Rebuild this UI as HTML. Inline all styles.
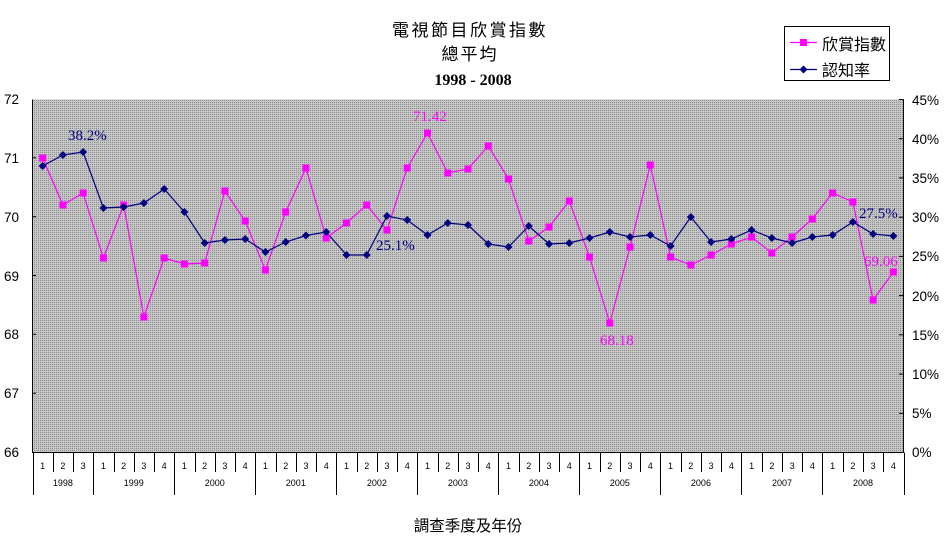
<!DOCTYPE html>
<html>
<head>
<meta charset="utf-8">
<style>
html,body{margin:0;padding:0;background:#fff;}
svg{display:block;}
.cjk{font-family:"Liberation Sans","Noto Sans CJK TC","WenQuanYi Zen Hei",sans-serif;}
.ax{font-family:"Liberation Sans",Arial,sans-serif;font-size:13.5px;fill:#000;}
.sm{font-family:"Liberation Sans",Arial,sans-serif;font-size:9px;fill:#000;}
.lbl{font-family:"Liberation Serif","Times New Roman",serif;font-size:15px;}
</style>
</head>
<body>
<svg width="948" height="559" viewBox="0 0 948 559" xmlns="http://www.w3.org/2000/svg">
<defs>
<pattern id="dots" width="2" height="2" patternUnits="userSpaceOnUse">
<rect width="2" height="2" fill="#c6c6c6"/>
<rect width="1" height="1" fill="#8c8c8c"/>
</pattern>
</defs>
<!-- titles -->
<text x="470" y="36" text-anchor="middle" class="cjk" font-size="17" letter-spacing="2.5">電視節目欣賞指數</text>
<text x="470" y="60" text-anchor="middle" class="cjk" font-size="17" letter-spacing="2">總平均</text>
<text x="473" y="85" text-anchor="middle" font-family="Liberation Serif, serif" font-weight="bold" font-size="16">1998 - 2008</text>

<!-- plot area -->
<rect x="32.5" y="99.5" width="871" height="352.5" fill="url(#dots)"/>
<path d="M32.5 99.5 V452.5 H903.5 V99.5" fill="none" stroke="#000" stroke-width="1"/>

<!-- left ticks -->
<g stroke="#000" stroke-width="1">
<line x1="32.5" y1="157.8" x2="36" y2="157.8"/>
<line x1="32.5" y1="216.7" x2="36" y2="216.7"/>
<line x1="32.5" y1="275.5" x2="36" y2="275.5"/>
<line x1="32.5" y1="334.3" x2="36" y2="334.3"/>
<line x1="32.5" y1="393.2" x2="36" y2="393.2"/>
<!-- right ticks -->
<line x1="899" y1="99.5" x2="903.5" y2="99.5"/>
<line x1="899" y1="138.7" x2="903.5" y2="138.7"/>
<line x1="899" y1="177.9" x2="903.5" y2="177.9"/>
<line x1="899" y1="217.2" x2="903.5" y2="217.2"/>
<line x1="899" y1="256.4" x2="903.5" y2="256.4"/>
<line x1="899" y1="295.6" x2="903.5" y2="295.6"/>
<line x1="899" y1="334.8" x2="903.5" y2="334.8"/>
<line x1="899" y1="374.1" x2="903.5" y2="374.1"/>
<line x1="899" y1="413.3" x2="903.5" y2="413.3"/>
</g>

<!-- left labels -->
<g class="ax">
<text x="4" y="104">72</text>
<text x="4" y="163">71</text>
<text x="4" y="222">70</text>
<text x="4" y="281">69</text>
<text x="4" y="339">68</text>
<text x="4" y="398">67</text>
<text x="4" y="457">66</text>
</g>
<!-- right labels -->
<g class="ax">
<text x="912" y="105">45%</text>
<text x="912" y="144">40%</text>
<text x="912" y="183">35%</text>
<text x="912" y="222">30%</text>
<text x="912" y="261">25%</text>
<text x="912" y="301">20%</text>
<text x="912" y="340">15%</text>
<text x="912" y="379">10%</text>
<text x="912" y="418">5%</text>
<text x="912" y="457">0%</text>
</g>

<!-- category axis ticks -->
<g stroke="#000" stroke-width="1" id="ticks"></g>
<g class="sm" id="qlabels"></g>

<!-- series -->
<g id="series"></g>

<!-- data labels -->
<text x="68" y="140" class="lbl" fill="#000080">38.2%</text>
<text x="413" y="121" class="lbl" fill="#ff00ff">71.42</text>
<text x="376" y="250" class="lbl" fill="#000080">25.1%</text>
<text x="600" y="345" class="lbl" fill="#ff00ff">68.18</text>
<text x="859" y="218" class="lbl" fill="#000080">27.5%</text>
<text x="864" y="266" class="lbl" fill="#ff00ff">69.06</text>

<!-- legend -->
<rect x="784.5" y="26.5" width="105" height="54" fill="#fff" stroke="#000" stroke-width="1"/>
<line x1="790" y1="42.5" x2="817" y2="42.5" stroke="#ff00ff" stroke-width="1.2"/>
<rect x="800" y="39" width="7" height="7" fill="#ff00ff"/>
<text x="822" y="50" class="cjk" font-size="16">欣賞指數</text>
<line x1="790" y1="69.5" x2="817" y2="69.5" stroke="#000080" stroke-width="1.2"/>
<path d="M803.5 65.5 L807.5 69.5 L803.5 73.5 L799.5 69.5 Z" fill="#000080"/>
<text x="822" y="76" class="cjk" font-size="16">認知率</text>

<!-- x axis title -->
<text x="468" y="531" text-anchor="middle" class="cjk" font-size="15.5">調查季度及年份</text>

<script>
(function(){
var NS="http://www.w3.org/2000/svg";
var x0=32.5,w=871/43;
var ticks=document.getElementById("ticks");
var ql=document.getElementById("qlabels");
var yearStarts=[0,3,7,11,15,19,23,27,31,35,39,43];
function el(t,a,p,txt){var e=document.createElementNS(NS,t);for(var k in a)e.setAttribute(k,a[k]);if(txt)e.textContent=txt;p.appendChild(e);return e;}
for(var k=0;k<=43;k++){
  var x=Math.round(x0+w*k)+0.5;
  var long=yearStarts.indexOf(k)>=0;
  el("line",{x1:x,y1:452.5,x2:x,y2:long?495:472},ticks);
}
var quarters=[1,2,3];
for(var y=0;y<10;y++)quarters.push(1,2,3,4);
for(var i=0;i<43;i++){
  el("text",{x:x0+w*(i+0.5),y:469,"text-anchor":"middle"},ql,String(quarters[i]));
}
var years=["1998","1999","2000","2001","2002","2003","2004","2005","2006","2007","2008"];
for(var j=0;j<11;j++){
  var a=yearStarts[j],b=yearStarts[j+1];
  el("text",{x:x0+w*(a+b)/2,y:486,"text-anchor":"middle"},ql,years[j]);
}
var pink=[158,205,193,258,205,317,258,264,263,191,221,270,212,168,238,223,205,230,168,133,173,169,146,179,241,227,201,257,323,247,165,257,265,255,244,237,253,237,219,193,202,300,272];
var navy=[166,155,152,208,207,203,189,212,243,240,239,252,242,235.5,232,255,255,216,220,235,223,225,244,247,226,244,243,238,232,237,235,246,217,242,239,230,238,243,237,235,222,234,236];
var s=document.getElementById("series");
function pts(arr){return arr.map(function(v,i){return (x0+w*(i+0.5)).toFixed(1)+","+v;}).join(" ");}
el("polyline",{points:pts(pink),fill:"none",stroke:"#ff00ff","stroke-width":"1.2"},s);
el("polyline",{points:pts(navy),fill:"none",stroke:"#000080","stroke-width":"1.2"},s);
for(var i=0;i<43;i++){
  var cx=x0+w*(i+0.5);
  el("rect",{x:cx-3.5,y:pink[i]-3.5,width:7,height:7,fill:"#ff00ff"},s);
}
for(var i=0;i<43;i++){
  var cx=x0+w*(i+0.5),cy=navy[i];
  el("path",{d:"M"+cx+" "+(cy-4)+" L"+(cx+4)+" "+cy+" L"+cx+" "+(cy+4)+" L"+(cx-4)+" "+cy+" Z",fill:"#000080"},s);
}
})();
</script>
</svg>
</body>
</html>
